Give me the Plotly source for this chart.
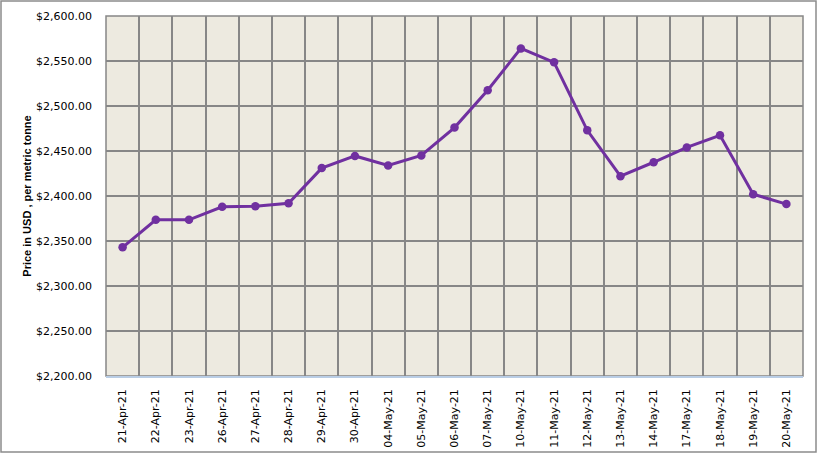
import plotly.graph_objects as go

dates = ["21-Apr-21", "22-Apr-21", "23-Apr-21", "26-Apr-21", "27-Apr-21", "28-Apr-21",
         "29-Apr-21", "30-Apr-21", "04-May-21", "05-May-21", "06-May-21", "07-May-21",
         "10-May-21", "11-May-21", "12-May-21", "13-May-21", "14-May-21", "17-May-21",
         "18-May-21", "19-May-21", "20-May-21"]
prices = [2343, 2373.5, 2373.5, 2388, 2388.5, 2392, 2431, 2444.5, 2434, 2445, 2476,
          2517.5, 2564, 2548.5, 2473, 2422, 2437.5, 2454, 2467.5, 2402, 2391]

W, H = 818, 453
ml, mr, mt, mb = 106, 15, 16, 77
pw, ph = W - ml - mr, H - mt - mb

fig = go.Figure()
fig.add_trace(go.Scatter(
    x=dates, y=prices, mode="lines+markers",
    line=dict(color="#7030A0", width=3),
    marker=dict(color="#7030A0", size=8.5),
    hoverinfo="x+y",
))

font = "DejaVu Sans"
fig.update_layout(
    width=W, height=H,
    margin=dict(l=ml, r=mr, t=mt, b=mb),
    paper_bgcolor="white",
    plot_bgcolor="#EDEAE0",
    showlegend=False,
    xaxis=dict(
        type="category",
        tickson="boundaries",
        range=[-0.5, len(dates) - 0.5],
        automargin=False,
        showgrid=True, gridcolor="#878787", gridwidth=1.5,
        tickangle=-90,
        tickfont=dict(family=font, size=11, color="black"),
        ticklabelstandoff=7,
        showline=True, linecolor="#B9CDE5", linewidth=1.5,
        ticks="", zeroline=False,
    ),
    yaxis=dict(
        range=[2200, 2600],
        dtick=50,
        automargin=False,
        tickprefix="$",
        tickformat=",.2f",
        showgrid=True, gridcolor="#878787", gridwidth=1.5,
        tickfont=dict(family=font, size=11, color="black"),
        ticklabelstandoff=13,
        title=dict(text="<b>Price in USD , per metric tonne</b>",
                   font=dict(family="Liberation Sans", size=11, color="black"), standoff=2),
        ticks="", zeroline=False,
    ),
    shapes=[
        dict(type="rect", xref="paper", yref="paper", x0=0, x1=1, y0=0, y1=1,
             line=dict(color="#878787", width=1.5), layer="below"),
        dict(type="rect", xref="paper", yref="paper",
             x0=(1 - ml) / pw, x1=(816 - ml) / pw,
             y0=(H - mb - 452) / ph, y1=(H - mb - 1) / ph,
             line=dict(color="#8C8C8C", width=1.5)),
    ],
)

fig.write_html("out.html")
